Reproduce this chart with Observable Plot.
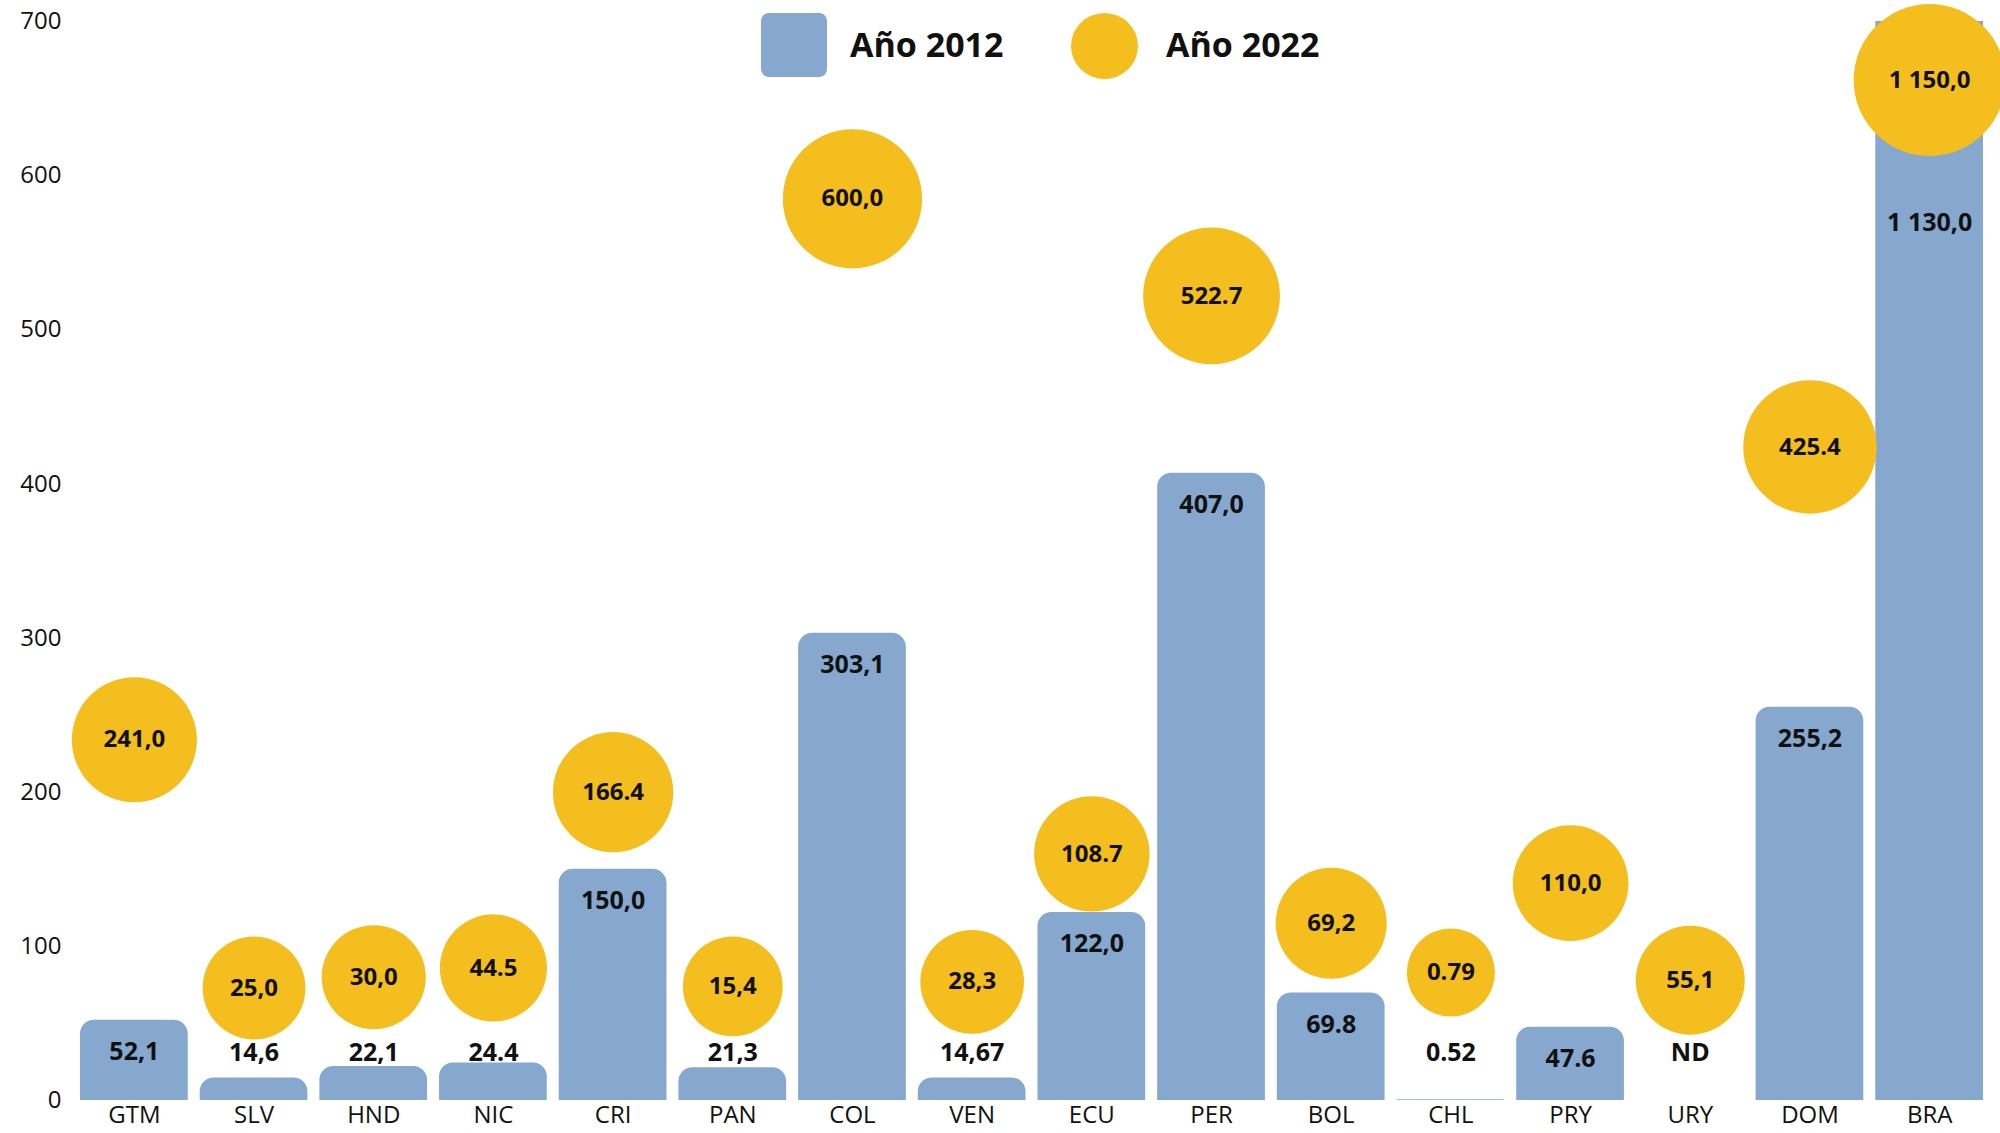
<!DOCTYPE html>
<html>
<head>
<meta charset="utf-8">
<script src="https://cdn.jsdelivr.net/npm/d3@7"></script>
<script src="https://cdn.jsdelivr.net/npm/@observablehq/plot@0.6"></script>
<style>
  html, body { margin: 0; padding: 0; background: #fff; }
  #wrap { position: relative; width: 2000px; height: 1133px; font-family: "Open Sans", "Noto Sans", sans-serif; }
  #legend { position: absolute; left: 0; top: 0; width: 2000px; height: 90px; pointer-events: none; }
  .sw { position: absolute; }
  .lt { position: absolute; font-size: 34px; font-weight: 700; color: #111; line-height: 1; }
</style>
</head>
<body>
<div id="wrap">
  <div id="chart"></div>
  <div id="legend">
    <div class="sw" style="left:761px;top:13px;width:66px;height:64px;border-radius:8px;background:#86A8CF;"></div>
    <div class="lt" style="left:850px;top:27px;">Año 2012</div>
    <div class="sw" style="left:1071px;top:13px;width:67px;height:66px;border-radius:50%;background:#F4BE1E;"></div>
    <div class="lt" style="left:1166px;top:27px;">Año 2022</div>
  </div>
</div>
<script>
// ---- data ----
const countries = ["GTM","SLV","HND","NIC","CRI","PAN","COL","VEN","ECU","PER","BOL","CHL","PRY","URY","DOM","BRA"];
const values2012 = [52.1, 14.6, 22.1, 24.4, 150.0, 21.3, 303.1, 14.67, 122.0, 407.0, 69.8, 0.52, 47.6, null, 255.2, 1130.0];
const labels2012 = ["52,1","14,6","22,1","24.4","150,0","21,3","303,1","14,67","122,0","407,0","69.8","0.52","47.6","ND","255,2","1 130,0"];
const values2022 = [241.0, 25.0, 30.0, 44.5, 166.4, 15.4, 600.0, 28.3, 108.7, 522.7, 69.2, 0.79, 110.0, 55.1, 425.4, 1150.0];
const labels2022 = ["241,0","25,0","30,0","44.5","166.4","15,4","600,0","28,3","108.7","522.7","69,2","0.79","110,0","55,1","425.4","1 150,0"];
// height on the value axis at which each 2022 bubble is drawn
const level2022 = [234, 73, 80, 86, 200, 74, 585, 77, 160, 522, 115, 83, 141, 78, 424, 662];
const yTicks = [0, 100, 200, 300, 400, 500, 600, 700];

const BLUE = "#86A8CF";
const YELLOW = "#F4BE1E";

const rows = countries.map((c, i) => ({
  country: c,
  v2012: values2012[i],
  l2012: labels2012[i],
  v2022: values2022[i],
  l2022: labels2022[i],
  level: level2022[i]
}));

const small = d => d.v2012 == null || d.v2012 < 40;
const labelLine = 30.5;   // line on which labels of short bars sit
const labelCap = 590;     // labels of bars taller than the axis sit below the bubble

const chart = Plot.plot({
  width: 2000,
  height: 1133,
  marginTop: 21,
  marginBottom: 33,
  marginLeft: 80,
  marginRight: 17,
  style: { fontFamily: "'Open Sans', 'Noto Sans', sans-serif", background: "#fff", color: "#111" },
  x: { domain: countries, paddingInner: 0.1, paddingOuter: 0, round: false, label: null },
  y: { domain: [0, 700], label: null },
  r: { type: "pow", exponent: 0.3, domain: [0, 1150], range: [40, 76] },
  marks: [
    Plot.axisY({ ticks: yTicks, tickSize: 0, tickPadding: 19, fontSize: 24, label: null, tickFormat: d => String(d), fill: "#111" }),
    Plot.axisX({ tickSize: 0, tickPadding: 5, fontSize: 24, label: null, fill: "#111" }),
    Plot.barY(rows.filter(d => d.v2012 != null), { x: "country", y: "v2012", fill: BLUE, ry1: 14, clip: true }),
    Plot.text(rows.filter(small), { x: "country", y: () => labelLine, text: "l2012", fontSize: 25, fontWeight: 700, fill: "#111" }),
    Plot.text(rows.filter(d => !small(d)), { x: "country", y: d => Math.min(d.v2012, labelCap), text: "l2012", dy: 32, fontSize: 25, fontWeight: 700, fill: "#111" }),
    Plot.dot(rows, { x: "country", y: "level", r: "v2022", fill: YELLOW, stroke: null }),
    Plot.text(rows, { x: "country", y: "level", text: "l2022", fontSize: 24, fontWeight: 700, fill: "#111" })
  ]
});
document.getElementById("chart").appendChild(chart);
</script>
</body>
</html>
